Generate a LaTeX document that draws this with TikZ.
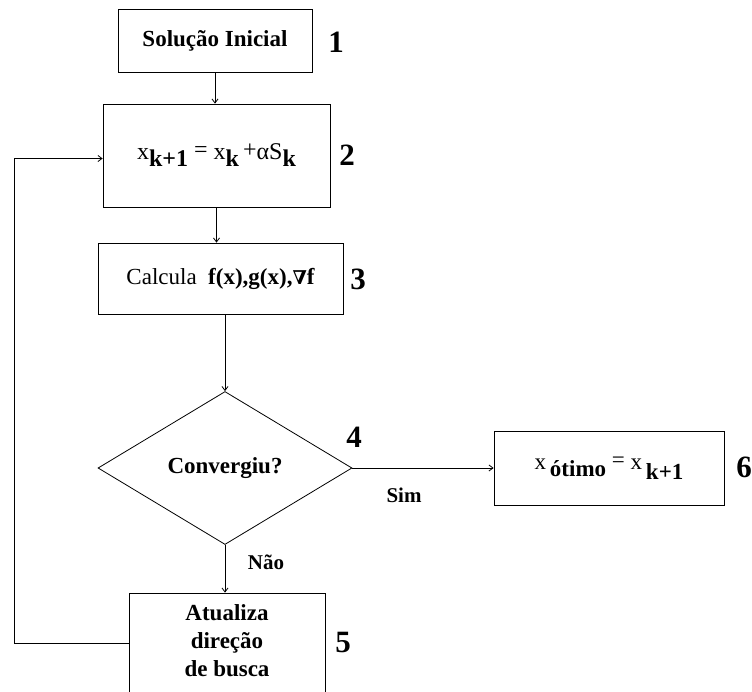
\documentclass[tikz,border=0pt]{standalone}
\usepackage{fontspec}
\setmainfont{Liberation Serif}
\newfontfamily\symfont{DejaVu Serif}
\usetikzlibrary{shapes.geometric,arrows.meta}
\tikzset{
  box/.style={draw, line width=0.8pt, inner sep=0pt, align=center, font=\fontsize{23}{28}\selectfont\bfseries},
  dia/.style={draw, diamond, line width=0.8pt, inner sep=0pt, font=\fontsize{23}{28}\selectfont\bfseries},
  num/.style={font=\fontsize{31}{33}\selectfont\bfseries},
  lab/.style={font=\fontsize{21}{24}\selectfont\bfseries},
  conn/.style={line width=0.8pt, -{Straight Barb[length=4pt,width=6pt]}}
}
\begin{document}
\begin{tikzpicture}[x=1pt,y=1pt]
\useasboundingbox (0,0) rectangle (752,-691);
\node[box, minimum width=194pt, minimum height=63pt] (b1) at (215,-40.5) {Solução Inicial};
\node[box, minimum width=227pt, minimum height=103pt] (b2) at (216.5,-155.5)
  {\mdseries\fontsize{24}{28}\selectfont x\raisebox{-7pt}{\bfseries k+1} \raisebox{2pt}{=} x\raisebox{-7pt}{\bfseries k}\,\raisebox{2pt}{+}αS\raisebox{-7pt}{\bfseries k}};
\node[box, minimum width=245pt, minimum height=71pt] (b3) at (220.5,-278.5)
  {\mdseries Calcula \ \bfseries f(x),g(x),{\symfont\bfseries\fontsize{19}{20}\selectfont ∇}f};
\node[dia, minimum width=254pt, minimum height=153pt, aspect=1.66] (d4) at (225,-468) {Convergiu?};
\node[box, minimum width=230pt, minimum height=74pt] (b6) at (609,-468)
  {\mdseries x\,\raisebox{-7pt}{\bfseries ótimo} \raisebox{2pt}{=} x\,\raisebox{-10pt}{\bfseries k+1}};
\node[box, minimum width=196pt, minimum height=112pt] (b5) at (227,-649) {};
\node[box, draw=none, anchor=north] (t5) at (227,-604) {Atualiza\\ direção\\ de busca};
\node[num] (n1) at (336,-42) {1};
\node[num] (n2) at (347,-155) {2};
\node[num] (n3) at (358,-279) {3};
\node[num] (n4) at (354,-437) {4};
\node[num] (n5) at (343,-642) {5};
\node[num] (n6) at (744,-467) {6};
\node[lab] (sim) at (404,-495) {Sim};
\node[lab] (nao) at (266,-562) {Não};
\coordinate (lc) at (14,-643);
\draw[conn] (b1.south) -- (b1.south |- b2.north);
\draw[conn] (b2.south) -- (b2.south |- b3.north);
\draw[conn] (d4.north |- b3.south) -- (d4.north);
\draw[conn] (d4.east) -- (b6.west |- d4.east);
\draw[conn] (d4.south) -- (d4.south |- b5.north);
\draw[conn] (b5.west |- lc) -- (lc) |- ([yshift=-3pt]b2.west);
\end{tikzpicture}
\end{document}
